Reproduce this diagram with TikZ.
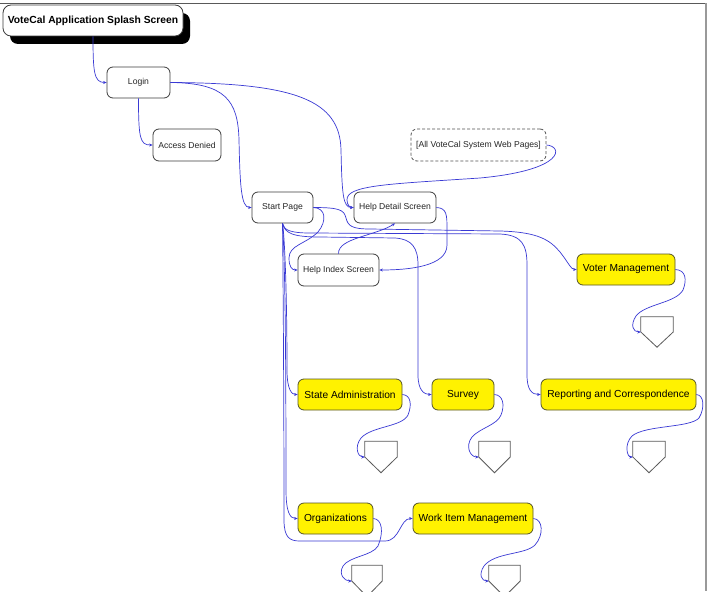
\documentclass[tikz,border=0pt]{standalone}
\usepackage{fontspec}
\setmainfont{Liberation Sans}
\usetikzlibrary{arrows.meta,shadows}
\definecolor{connc}{RGB}{58,58,212}
\definecolor{boxline}{RGB}{60,60,60}
\definecolor{yline}{RGB}{85,85,40}
\definecolor{dline}{RGB}{80,80,80}
\definecolor{pline}{RGB}{90,90,90}
\begin{document}
\begin{tikzpicture}[x=1pt,y=-1pt,
  box/.style={draw=boxline, rounded corners=6pt, fill=white, line width=0.8pt, inner sep=0pt,
    font=\fontsize{8.6}{10}\selectfont, text=black!85},
  ybox/.style={box, fill=yellow, draw=yline, font=\fontsize{10.2}{12}\selectfont, text=black},
  dbox/.style={box, draw=dline, dash pattern=on 3pt off 2pt},
  penta/.style={minimum width=32pt, minimum height=30pt, inner sep=0pt},
  pentaline/.style={draw=pline, line width=0.8pt},
  conn/.style={draw=connc, line width=0.7pt, -{Stealth[length=3.5pt,width=3pt]}},
  frameline/.style={line width=1pt}
]
\useasboundingbox (0,0) rectangle (711,591);
\clip (0,0) rectangle (711,591);
\fill[white] (0,0) rectangle (711,591);
% frame
\draw[frameline, draw=black!65] (0,3.5) -- (707,3.5);
\draw[line width=2pt, draw=black!40] (706,3.5) -- (706,591);

% nodes
\node[box, font=\bfseries\fontsize{10.3}{12}\selectfont, text=black, minimum width=180pt, minimum height=31pt,
  rounded corners=8pt, general shadow={fill=black, shadow xshift=7pt, shadow yshift=-8pt}] (splash) at (93,20.5) {VoteCal Application Splash Screen};
\node[box, minimum width=63pt, minimum height=31pt] (login) at (138.5,82.5) {Login};
\node[box, minimum width=68pt, minimum height=32pt] (denied) at (187,145) {Access Denied};
\node[dbox, minimum width=135pt, minimum height=32pt] (allpages) at (478.5,145) {[All VoteCal System Web Pages]};
\node[box, minimum width=61pt, minimum height=31pt] (start) at (282.5,207.5) {Start Page};
\node[box, minimum width=82pt, minimum height=31pt] (detail) at (395,207.5) {Help Detail Screen};
\node[box, minimum width=81pt, minimum height=32pt] (index) at (338.5,270) {Help Index Screen};
\node[ybox, minimum width=98pt, minimum height=31pt] (voter) at (626,269.5) {Voter Management};
\node[ybox, minimum width=104pt, minimum height=31pt] (state) at (350,394.5) {State Administration};
\node[ybox, minimum width=62pt, minimum height=31pt] (survey) at (463,394.5) {Survey};
\node[ybox, minimum width=155pt, minimum height=31pt] (report) at (618.5,394.5) {Reporting and Correspondence};
\node[ybox, minimum width=75pt, minimum height=31pt] (orgs) at (335.5,518.5) {Organizations};
\node[ybox, minimum width=120pt, minimum height=31pt] (wim) at (473,518.5) {Work Item Management};

% pentagons (off-page connectors)
\node[penta] (p1) at (657,332) {};
\node[penta, minimum width=32pt, minimum height=31pt] (p2) at (381,457) {};
\node[penta, minimum width=31pt, minimum height=31pt] (p3) at (494.5,457) {};
\node[penta, minimum width=32pt, minimum height=31pt] (p4) at (649,457) {};
\node[penta, minimum width=30pt, minimum height=31pt] (p5) at (367,581) {};
\node[penta, minimum width=31pt, minimum height=31pt] (p6) at (504.5,581) {};
\foreach \p in {p1,p2,p3,p4,p5,p6}
  \draw[pentaline] (\p.north west) -- (\p.north east) -- (\p.east) -- (\p.south) -- (\p.west) -- cycle;

% connectors
\draw[conn] (splash.south) .. controls (93,72) and (94,82.5) .. (login.west);
\draw[conn] (login.south) .. controls (138.5,138) and (140,145) .. (denied.west);
\draw[conn] (login.east) .. controls (225,83) and (238,100) .. (239,140)
  .. controls (240,185) and (241,207.5) .. (start.west);
\draw[conn] (login.east) .. controls (295,83) and (340,100) .. (341,150)
  .. controls (342,195) and (343,207.5) .. (detail.west);
\draw[conn] (allpages.east) .. controls (563,146) and (566,170) .. (480,178)
  .. controls (390,184) and (346,185) .. (347,200)
  .. controls (347,205) and (350,207.5) .. (detail.west);
\draw[conn] (start.east) .. controls (326,208) and (327,221) .. (318,232)
  .. controls (306,244) and (289,245) .. (289,258)
  .. controls (289,267) and (292,270) .. (index.west);
\draw[conn] (detail.east) .. controls (447,208) and (447,215) .. (447,230)
  -- (447,245) .. controls (447,266) and (410,270) .. (index.east);
\draw[conn] (index.north) .. controls (338,238) and (375,236) .. (detail.south);
\draw[conn] (start.east) .. controls (340,207.5) and (344,210) .. (346,218)
  .. controls (348,226) and (352,229) .. (370,229) -- (500,231)
  .. controls (538,232) and (550,240) .. (560,252)
  .. controls (568,262) and (571,269.5) .. (voter.west);
\draw[conn] (start.south) .. controls (284,230) and (290,233) .. (310,233) -- (500,234)
  .. controls (522,235) and (527,245) .. (527,265) -- (527,375)
  .. controls (527,390) and (532,394.5) .. (report.west);
\draw[conn] (start.south) .. controls (285,233) and (292,237) .. (320,237) -- (395,238)
  .. controls (412,239) and (418,248) .. (418,265) -- (418,375)
  .. controls (418,390) and (424,394.5) .. (survey.west);
\draw[conn] (start.south) .. controls (285,240) and (287,300) .. (287,370)
  .. controls (287,390) and (292,394.5) .. (state.west);
\draw[conn] (start.south) .. controls (285,260) and (286,350) .. (286,490)
  .. controls (286,512) and (290,518.5) .. (orgs.west);
\draw[conn] (start.south) .. controls (283,260) and (284,400) .. (284,520)
  .. controls (284,538) and (290,541) .. (300,541) -- (385,541)
  .. controls (400,541) and (400,518.5) .. (wim.west);
% yellow node to off-page connector
\draw[conn] (voter.east) .. controls (686,270) and (687,280) .. (683,290)
  .. controls (676,303) and (645,304) .. (636,316)
  .. controls (630,325) and (633,332) .. (p1.west);
\draw[conn] (state.east) .. controls (411,395) and (412,405) .. (408,415)
  .. controls (402,427) and (372,426) .. (361,438)
  .. controls (354,447) and (358,457) .. (p2.west);
\draw[conn] (survey.east) .. controls (503,395) and (505,405) .. (501,415)
  .. controls (497,425) and (480,428) .. (472,437)
  .. controls (465,446) and (470,457) .. (p3.west);
\draw[conn] (report.east) .. controls (704,395) and (705,408) .. (699,418)
  .. controls (690,428) and (645,425) .. (632,436)
  .. controls (624,444) and (627,457) .. (p4.west);
\draw[conn] (orgs.east) .. controls (382,519) and (384,532) .. (378,546)
  .. controls (372,556) and (350,556) .. (343,566)
  .. controls (338,575) and (345,581) .. (p5.west);
\draw[conn] (wim.east) .. controls (543,519) and (544,535) .. (535,545)
  .. controls (525,555) and (495,552) .. (484,566)
  .. controls (478,575) and (482,581) .. (p6.west);
\end{tikzpicture}
\end{document}
